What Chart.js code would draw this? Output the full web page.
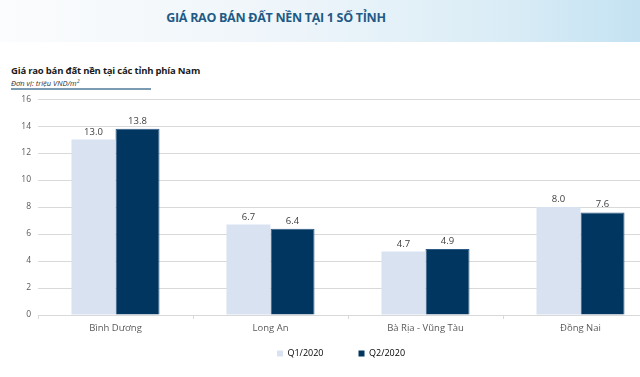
<!DOCTYPE html>
<html>
<head>
<meta charset="utf-8">
<script src="https://cdn.jsdelivr.net/npm/chart.js@4.4.0/dist/chart.umd.min.js"></script>
<style>
  html, body { margin: 0; padding: 0; width: 640px; height: 377px; overflow: hidden; background: #fff; font-family: "Open Sans", sans-serif; }
  #band { position: absolute; left: 0; top: 0; width: 640px; height: 42px;
    background: linear-gradient(90deg, #fbfcfd 0%, #eef5fa 45%, #d9ecf6 80%, #c4e2f2 100%); }
  #title { position: absolute; left: 0; width: 552px; top: 9px; text-align: center; font-weight: 700; font-size: 12.5px; color: #1f5a86; letter-spacing: -0.3px; }
  #sub { position: absolute; left: 11px; top: 64px; font-weight: 700; font-size: 9.5px; color: #1a1a1a; letter-spacing: -0.2px; }
  #unit { position: absolute; left: 11px; top: 78px; font-style: italic; font-size: 7.5px; color: #333; }
  #line { position: absolute; left: 11px; top: 88px; width: 140px; height: 2px; background: #7a9bb2; }
  #wrap { position: absolute; left: 0; top: 87px; width: 658px; height: 308px; }
</style>
</head>
<body>
<div id="band"></div>
<div id="title">GIÁ RAO BÁN ĐẤT NỀN TẠI 1 SỐ TỈNH</div>
<div id="sub">Giá rao bán đất nền tại các tỉnh phía Nam</div>
<div id="unit">Đơn vị: triệu VND/m²</div>
<div id="line"></div>
<div id="wrap"><canvas id="c"></canvas></div>
<script>
const categories = ["Bình Dương", "Long An", "Bà Rịa - Vũng Tàu", "Đồng Nai"];
const seriesNames = ["Q1/2020", "Q2/2020"];
const q1Values = [13.0, 6.7, 4.7, 8.0];
const q2Values = [13.8, 6.4, 4.9, 7.6];
const yTicks = [0, 2, 4, 6, 8, 10, 12, 14, 16];

const valueLabels = {
  id: 'valueLabels',
  afterDatasetsDraw(chart) {
    const ctx = chart.ctx;
    ctx.save();
    ctx.font = '9.5px "Open Sans", sans-serif';
    ctx.fillStyle = '#404040';
    ctx.textAlign = 'center';
    ctx.textBaseline = 'bottom';
    chart.data.datasets.forEach((ds, i) => {
      chart.getDatasetMeta(i).data.forEach((el, j) => {
        ctx.fillText(ds.data[j].toFixed(1), el.x, el.y - 3);
      });
    });
    ctx.restore();
  }
};

const legendShift = {
  id: 'legendShift',
  afterLayout(chart) {
    const lg = chart.legend;
    if (lg) { lg.top -= 27; lg.bottom -= 27; lg.left += 12; lg.right += 12; }
  }
};

new Chart(document.getElementById('c'), {
  type: 'bar',
  data: {
    labels: categories,
    datasets: [
      { label: seriesNames[0], data: q1Values, backgroundColor: '#d9e2f1', categoryPercentage: 0.568, barPercentage: 1.0 },
      { label: seriesNames[1], data: q2Values, backgroundColor: '#003660', borderColor: '#2a5a85', borderWidth: 1, categoryPercentage: 0.568, barPercentage: 1.0 }
    ]
  },
  options: {
    responsive: true,
    maintainAspectRatio: false,
    animation: false,
    layout: { padding: { top: 5, right: 0, left: 0, bottom: 0 } },
    plugins: {
      tooltip: { enabled: false },
      legend: {
        position: 'bottom',
        labels: {
          boxWidth: 6, boxHeight: 6, padding: 35,
          color: '#595959',
          font: { family: '"Open Sans", sans-serif', size: 9 },
          generateLabels(chart) {
            return chart.data.datasets.map((ds, i) => ({
              text: ds.label, fillStyle: ds.backgroundColor, strokeStyle: ds.backgroundColor, lineWidth: 0, datasetIndex: i
            }));
          }
        }
      }
    },
    scales: {
      x: {
        offset: true,
        grid: { offset: true, drawOnChartArea: false, drawTicks: true, tickLength: 4, color: '#d9d9d9' },
        border: { display: true, color: '#d9d9d9' },
        ticks: { color: '#595959', font: { family: '"Open Sans", sans-serif', size: 9.5 }, padding: 4, maxRotation: 0 },
        afterFit(s) { s.height = 26; }
      },
      y: {
        min: 0, max: 16,
        afterBuildTicks(s) { s.ticks = yTicks.map(v => ({ value: v })); },
        grid: { color: '#d9d9d9', drawTicks: false },
        border: { display: false },
        ticks: { color: '#595959', font: { family: '"Open Sans", sans-serif', size: 8.5 }, padding: 7 },
        afterFit(s) { s.width = 38; }
      }
    }
  },
  plugins: [valueLabels, legendShift]
});
</script>
</body>
</html>
